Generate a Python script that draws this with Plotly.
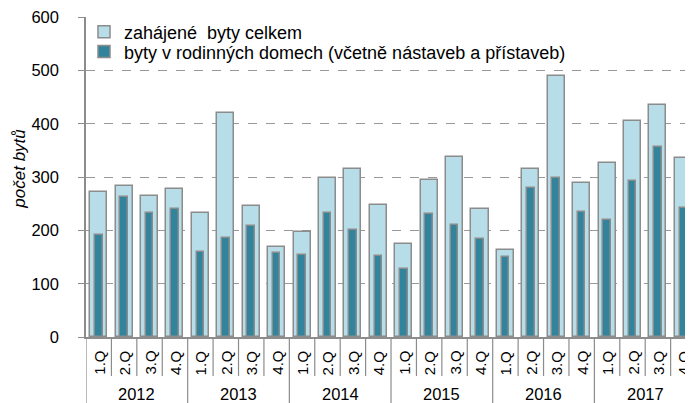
import plotly.graph_objects as go

years = ["2012", "2013", "2014", "2015", "2016", "2017"]
quarters = ["1.Q", "2.Q", "3.Q", "4.Q"]

total = [272, 284, 265, 277,
         233, 421, 245, 169,
         198, 299, 316, 248,
         174, 294, 338, 240,
         164, 316, 489, 289,
         326, 406, 436, 336]
family = [191, 263, 233, 240,
          160, 185, 208, 157,
          154, 233, 200, 152,
          128, 231, 211, 184,
          150, 280, 299, 234,
          219, 293, 356, 243]

name_total = "zahájené  byty celkem"
name_family = "byty v rodinných domech (včetně nástaveb a přístaveb)"
y_title = "počet bytů"

FONT = "Liberation Sans, Arial, sans-serif"
GREY = "#8c8c8c"

n = len(total)
xs = list(range(n))

fig = go.Figure()
fig.add_trace(go.Bar(
    x=xs, y=total, name=name_total, width=0.67, legend="legend",
    marker=dict(color="#b7dde8", line=dict(color=GREY, width=1.5)),
))
fig.add_trace(go.Bar(
    x=xs, y=family, name=name_family, width=0.3, legend="legend2",
    marker=dict(color="#31849b", line=dict(color=GREY, width=1.5)),
))

shapes = []
for k in range(n + 1):
    is_year = (k % 4 == 0)
    shapes.append(dict(
        type="line", xref="x", yref="paper", x0=k - 0.5, x1=k - 0.5,
        ysizemode="pixel", yanchor=0, y0=0, y1=-66 if is_year else -39,
        line=dict(color=GREY, width=1.2), layer="above",
    ))

annotations = []
for i in xs:
    annotations.append(dict(
        x=i, y=0, xref="x", yref="paper", text=quarters[i % 4],
        textangle=-90, showarrow=False, yshift=-26, xanchor="center",
        yanchor="middle", font=dict(family=FONT, size=15, color="black"),
    ))
for j, yr in enumerate(years):
    annotations.append(dict(
        x=4 * j + 1.5, y=0, xref="x", yref="paper", text=yr,
        showarrow=False, yshift=-57, xanchor="center", yanchor="middle",
        font=dict(family=FONT, size=16.5, color="black"),
    ))
annotations.append(dict(
    x=0, y=0.526, xref="paper", yref="paper", text=y_title, textangle=-90,
    showarrow=False, xshift=-66, xanchor="center", yanchor="middle",
    font=dict(family=FONT, size=17, color="black", style="italic"),
))

legend_common = dict(xanchor="left", yanchor="top", bgcolor="rgba(0,0,0,0)",
                     font=dict(family=FONT, size=18, color="black"), itemwidth=30)

fig.update_layout(
    width=685, height=395,
    margin=dict(l=78, r=0, t=6, b=66, pad=0),
    paper_bgcolor="white", plot_bgcolor="white",
    barmode="overlay", bargap=0,
    showlegend=True,
    legend=dict(x=-0.0033, y=1.0108, **legend_common),
    legend2=dict(x=-0.0033, y=0.949, **legend_common),
    xaxis=dict(range=[-0.5, 23.38], showticklabels=False, ticks="",
               showgrid=False, zeroline=False, showline=True,
               linecolor=GREY, linewidth=1.5, fixedrange=True),
    yaxis=dict(range=[0, 600.6], dtick=100, tick0=0, showgrid=True,
               gridcolor="#999999", griddash="dash", gridwidth=1.2,
               zeroline=False, showline=True, linecolor=GREY, linewidth=1.5,
               ticks="outside", ticklen=6, tickcolor=GREY, tickwidth=1.2,
               ticklabelstandoff=16, ticklabeloverflow="allow",
               tickfont=dict(family=FONT, size=16.5, color="black")),
    shapes=shapes, annotations=annotations,
    font=dict(family=FONT, color="black"),
)

fig.write_html("out.html")
